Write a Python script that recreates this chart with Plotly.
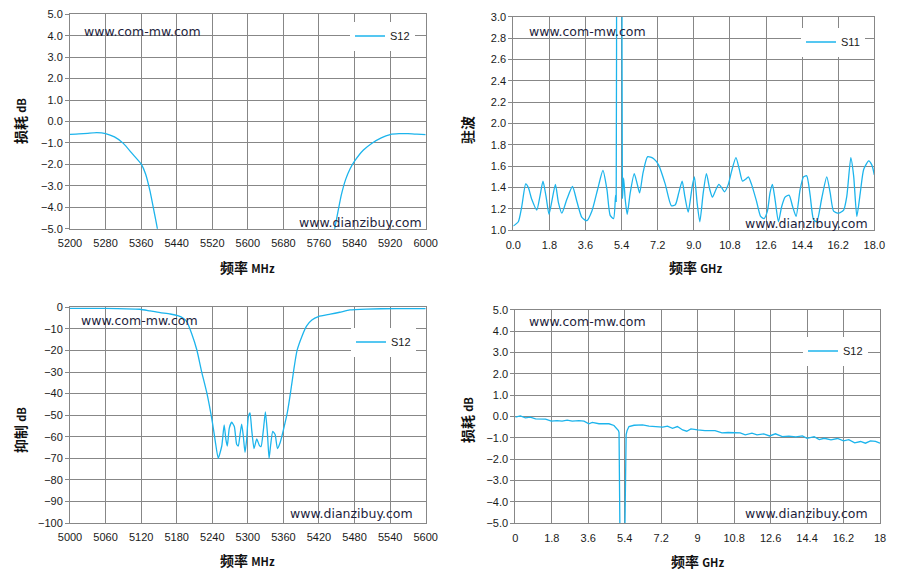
import plotly.graph_objects as go

# the page puts the figure 8px in from the top left corner
W, H = 891, 573
OFF = 8

# ---- data ----
# top left: S12 loss, MHz
freq_tl = [5200, 5220, 5240, 5260, 5280, 5300, 5320, 5340, 5360, 5370, 5380, 5390, 5400,
           5420, 5450, 5500, 5600, 5700, 5750, 5780, 5790, 5800, 5810, 5820, 5830, 5840,
           5860, 5880, 5900, 5920, 5940, 5960, 5980, 6000]
s12_tl = [-0.60, -0.58, -0.55, -0.52, -0.56, -0.72, -1.02, -1.50, -1.98, -2.45, -3.25, -4.3, -5.4,
          -9.0, -15.0, -25.0, -40.0, -25.0, -12.0, -7.0, -5.6, -4.5, -3.45, -2.7, -2.2, -1.85,
          -1.33, -1.0, -0.76, -0.61, -0.57, -0.57, -0.59, -0.61]

# top right: S11 VSWR, GHz
freq_tr = [0.0, 0.25, 0.42, 0.62, 0.75, 0.92, 1.17, 1.33, 1.48, 1.63, 1.78, 1.92, 2.1, 2.25,
           2.42, 2.67, 2.95, 3.17, 3.42, 3.67, 3.92, 4.2, 4.47, 4.67, 4.83, 5.0, 5.1, 5.13,
           5.15, 5.3, 5.42, 5.44, 5.5, 5.58, 5.68, 5.83, 6.03, 6.17, 6.3, 6.47, 6.7, 7.0, 7.25,
           7.58, 7.88, 8.08, 8.25, 8.42, 8.55, 8.72, 8.92, 9.03, 9.17, 9.3, 9.47, 9.63, 9.8,
           9.93, 10.1, 10.25, 10.42, 10.53, 10.72, 10.88, 11.1, 11.27, 11.43, 11.6, 11.72,
           11.88, 12.13, 12.33, 12.5, 12.67, 12.8, 12.92, 13.05, 13.22, 13.38, 13.55, 13.75,
           13.93, 14.1, 14.3, 14.47, 14.63, 14.8, 14.97, 15.13, 15.38, 15.63, 15.8, 15.97,
           16.22, 16.47, 16.63, 16.83, 16.97, 17.13, 17.3, 17.47, 17.72, 17.88, 18.0]
vswr_tr = [1.04, 1.08, 1.22, 1.435, 1.40, 1.29, 1.19, 1.32, 1.46, 1.32, 1.15, 1.27, 1.43, 1.26,
           1.16, 1.29, 1.41, 1.27, 1.12, 1.09, 1.18, 1.38, 1.56, 1.38, 1.14, 1.11, 1.33, 1.27,
           4.0, 9.0, 4.0, 1.30, 1.49, 1.29, 1.15, 1.35, 1.53, 1.44, 1.35, 1.54, 1.69, 1.67, 1.61,
           1.43, 1.23, 1.24, 1.35, 1.46, 1.32, 1.17, 1.41, 1.50, 1.25, 1.08, 1.35, 1.53, 1.38,
           1.31, 1.38, 1.43, 1.39, 1.36, 1.43, 1.55, 1.68, 1.57, 1.46, 1.48, 1.50,
           1.43, 1.27, 1.13, 1.11, 1.18, 1.35, 1.43, 1.29, 1.08, 1.22, 1.31, 1.33,
           1.22, 1.13, 1.38, 1.50, 1.51, 1.33, 1.10, 1.08, 1.30, 1.50, 1.35, 1.18,
           1.16, 1.19, 1.32, 1.68, 1.51, 1.13, 1.35, 1.57, 1.65, 1.61, 1.52]

# bottom left: S12 rejection, MHz
freq_bl = [5000, 5040, 5079, 5118, 5135, 5152, 5169, 5183, 5191, 5197, 5205, 5214, 5222, 5231,
           5240, 5245, 5250, 5256, 5260, 5263, 5265.4, 5268.7, 5272.7, 5277.2, 5281.1, 5283.9,
           5286.8, 5289.6, 5292.4, 5295.2, 5298, 5300.8, 5303.7, 5306.5, 5310.4, 5315, 5319.4,
           5322.3, 5326.2, 5329.6, 5333, 5335.8, 5338.6, 5342, 5346, 5349.9, 5354.4, 5360,
           5366.8, 5372.4, 5378, 5383, 5391, 5399, 5408, 5419, 5439, 5455, 5472, 5500, 5550, 5600]
rej_bl = [-0.5, -0.5, -0.6, -0.9, -1.7, -2.5, -3.1, -4.0, -5.1, -6.6, -12.0, -19.8, -29.8, -39.9,
          -53.0, -62.0, -70.0, -64.3, -54.5, -61.3, -64.3, -56.0, -53.3, -55.3, -63.5, -64.3,
          -59.0, -54.2, -59.8, -67.3, -61.3, -50.8, -49.0, -56.8, -65.5, -61.0, -64.0,
          -64.6, -56.8, -48.5, -58.3, -70.0, -63.5, -57.5, -59.0, -65.5, -62.8, -56.8,
          -48.5, -38.7, -28.0, -20.0, -13.6, -8.7, -5.9, -4.3, -3.2, -2.3, -1.2, -0.8, -0.6, -0.6]

# bottom right: S12 loss, GHz
freq_br = [0.0, 0.25, 0.5, 0.74, 1.0, 1.24, 1.49, 1.78, 2.06, 2.31, 2.56, 2.81, 3.14, 3.39, 3.63,
           3.8, 4.13, 4.62, 4.87, 5.09, 5.12, 5.17, 5.3, 5.4, 5.47, 5.52, 5.61, 5.86, 6.28, 6.6,
           6.94, 7.27, 7.51, 7.76, 8.0, 8.26, 8.46, 8.67, 9.0, 9.36, 9.86, 10.2, 10.5, 10.85,
           11.1, 11.35, 11.68, 11.93, 12.26, 12.55, 12.84, 13.18, 13.5, 13.85, 14.17, 14.4,
           14.75, 15.0, 15.25, 15.58, 15.9, 16.2, 16.46, 16.75, 17.04, 17.28, 17.53, 17.78, 18.0]
s12_br = [-0.03, 0.03, -0.06, -0.03, -0.11, -0.11, -0.12, -0.22, -0.19, -0.22, -0.17, -0.22, -0.19,
          -0.22, -0.34, -0.28, -0.34, -0.34, -0.42, -0.66, -0.75, -6.0, -20.0, -6.0, -0.85, -0.65,
          -0.47, -0.41, -0.39, -0.45, -0.47, -0.5, -0.45, -0.55, -0.47, -0.63, -0.69, -0.58,
          -0.63, -0.66, -0.66, -0.77, -0.75, -0.77, -0.77, -0.86, -0.78, -0.86, -0.81, -0.91,
          -0.81, -0.94, -0.92, -0.95, -0.91, -1.02, -0.94, -1.08, -1.02, -1.09, -1.03, -1.14,
          -1.08, -1.23, -1.17, -1.25, -1.14, -1.16, -1.25]

ghz_ticks_tr = ["0.0", "1.8", "3.6", "5.4", "7.2", "9.0", "10.8", "12.6", "14.4", "16.2", "18.0"]
ghz_ticks_br = ["0", "1.8", "3.6", "5.4", "7.2", "9", "10.8", "12.6", "14.4", "16.2", "18"]
ghz_vals = [i * 1.8 for i in range(11)]

LINE = "#1CB4EC"
GRID = "#878787"
TICKFONT = dict(family="Liberation Sans, Arial", size=11, color="#1a1a1a")
TITLEFONT = dict(family="Noto Sans CJK SC", size=14, color="#111111")
MARK = dict(family="DejaVu Sans", size=12.5, color="#1e1e3c")


def px(x):
    return (x - OFF) / W


def py(y):
    return 1 - (y - OFF) / H


def axis(dom, rng, dtick=None, tickvals=None, ticktext=None, fmt=None, yticks=False):
    a = dict(domain=dom, range=rng, showgrid=True, gridcolor=GRID, gridwidth=1,
             showline=True, linecolor=GRID, linewidth=1, mirror=True, zeroline=False,
             tickfont=TICKFONT, fixedrange=True, automargin=False)
    if dtick is not None:
        a.update(tick0=rng[0], dtick=dtick)
    if tickvals is not None:
        a.update(tickmode="array", tickvals=tickvals, ticktext=ticktext)
    if fmt:
        a["tickformat"] = fmt
    if yticks:
        a.update(ticks="outside", ticklen=4, tickcolor=GRID)
    else:
        a.update(ticks="", ticklabelstandoff=4)
    return a


fig = go.Figure()
fig.add_trace(go.Scatter(x=freq_tl, y=s12_tl, mode="lines", name="S12", xaxis="x", yaxis="y",
                         line=dict(color=LINE, width=1.3, shape="spline", smoothing=0.5),
                         legend="legend", showlegend=True))
fig.add_trace(go.Scatter(x=freq_tr, y=vswr_tr, mode="lines", name="S11", xaxis="x2", yaxis="y2",
                         line=dict(color=LINE, width=1.3, shape="spline", smoothing=0.6),
                         legend="legend2", showlegend=True))
fig.add_trace(go.Scatter(x=freq_bl, y=rej_bl, mode="lines", name="S12", xaxis="x3", yaxis="y3",
                         line=dict(color=LINE, width=1.3, shape="spline", smoothing=0.5),
                         legend="legend3", showlegend=True))
fig.add_trace(go.Scatter(x=freq_br, y=s12_br, mode="lines", name="S12", xaxis="x4", yaxis="y4",
                         line=dict(color=LINE, width=1.3), legend="legend4", showlegend=True))

dom_tl = ([px(70), px(425.7)], [py(228.7), py(14.3)])
dom_tr = ([px(513.3), px(874.3)], [py(230.3), py(16.7)])
dom_bl = ([px(70), px(425.7)], [py(523), py(307.3)])
dom_br = ([px(515.3), px(880)], [py(523.3), py(309.7)])

leg = dict(bgcolor="white", borderwidth=0, font=dict(family="Liberation Sans, Arial", size=11, color="#1a1a1a"),
           xanchor="left", yanchor="middle")

fig.update_layout(
    template="none", showlegend=True,
    width=W, height=H, margin=dict(l=0, r=0, t=0, b=0, autoexpand=False),
    paper_bgcolor="white", plot_bgcolor="white",
    xaxis=dict(axis(dom_tl[0], [5200, 6000], dtick=80), anchor="y"),
    yaxis=dict(axis(dom_tl[1], [-5, 5], dtick=1, fmt=".1f", yticks=True), anchor="x"),
    xaxis2=dict(axis(dom_tr[0], [0, 18], tickvals=ghz_vals, ticktext=ghz_ticks_tr), anchor="y2"),
    yaxis2=dict(axis(dom_tr[1], [1, 3], dtick=0.2, fmt=".1f", yticks=True), anchor="x2"),
    xaxis3=dict(axis(dom_bl[0], [5000, 5600], dtick=60), anchor="y3"),
    yaxis3=dict(axis(dom_bl[1], [-100, 0], dtick=10, yticks=True), anchor="x3"),
    xaxis4=dict(axis(dom_br[0], [0, 18], tickvals=ghz_vals, ticktext=ghz_ticks_br), anchor="y4"),
    yaxis4=dict(axis(dom_br[1], [-5, 5], dtick=1, fmt=".1f", yticks=True), anchor="x4"),
    legend=dict(leg, x=px(350), y=py(36)),
    legend2=dict(leg, x=px(801), y=py(42)),
    legend3=dict(leg, x=px(351), y=py(342)),
    legend4=dict(leg, x=px(803), y=py(351)),
)

notes = [
    ("www.com-mw.com", 81.7, 31.7), ("www.dianzibuy.com", 296.7, 223),
    ("www.com-mw.com", 526.7, 31.7), ("www.dianzibuy.com", 742.7, 223.3),
    ("www.com-mw.com", 79.3, 320.7), ("www.dianzibuy.com", 288.3, 513.3),
    ("www.com-mw.com", 526.7, 321.7), ("www.dianzibuy.com", 742.7, 513.3),
]
for txt, x, y in notes:
    fig.add_annotation(text=txt, x=px(x), y=py(y), xref="paper", yref="paper",
                       xanchor="left", yanchor="middle", showarrow=False, font=MARK)

small = "<span style='font-size:11px'>%s</span>"
xtitles = [("<b>频率 " + small % "MHz" + "</b>", 247.5, 267),
           ("<b>频率 " + small % "GHz" + "</b>", 695, 267),
           ("<b>频率 " + small % "MHz" + "</b>", 247.5, 560),
           ("<b>频率 " + small % "GHz" + "</b>", 697, 561)]
for txt, x, y in xtitles:
    fig.add_annotation(text=txt, x=px(x), y=py(y), xref="paper", yref="paper",
                       xanchor="center", yanchor="middle", showarrow=False, font=TITLEFONT)

ytitles = [("<b>损耗 " + small % "dB" + "</b>", 20, 121),
           ("<b>驻波</b>", 467, 130),
           ("<b>抑制 " + small % "dB" + "</b>", 20, 430),
           ("<b>损耗 " + small % "dB" + "</b>", 467, 420)]
for txt, x, y in ytitles:
    fig.add_annotation(text=txt, x=px(x), y=py(y), xref="paper", yref="paper", textangle=-90,
                       xanchor="center", yanchor="middle", showarrow=False, font=TITLEFONT)

fig.write_html("out.html")
